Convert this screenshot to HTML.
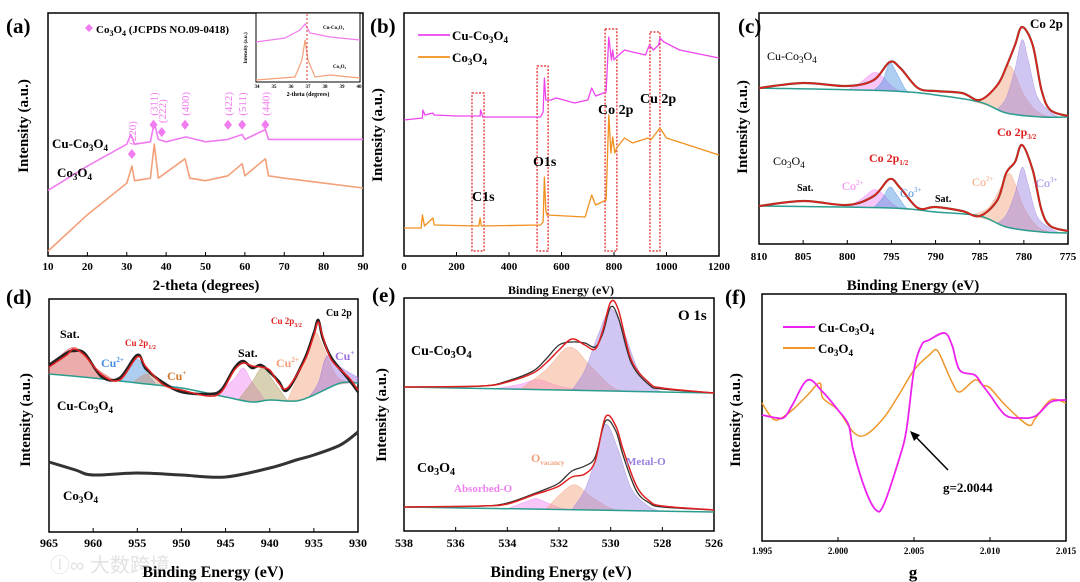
<!DOCTYPE html>
<html><head><meta charset="utf-8"><style>
html,body{margin:0;padding:0;background:#fff;}
svg{display:block;font-family:"Liberation Serif","Noto Serif CJK SC",serif;}
</style></head><body>
<svg id="fig" width="1080" height="582" viewBox="0 0 1080 582" xmlns="http://www.w3.org/2000/svg">
<text x="50" y="572" font-family="Liberation Sans,WenQuanYi Zen Hei,sans-serif" font-size="20" fill="#e2e2e2">ⓛ∞ 大数跨境</text>
</svg>
<script>
// ---------- DATA ----------
// (a) XRD
const aCuX=[10,20,30,31,32,36,37,38,40,45,50,55.7,59.3,60,65.2,66,70,80,90];
const aCuY=[27,37,46,50,46,47,55,48,47,49,47,48,50,48,52,48,48,48,48];
const aCoX=[10,20,30,31.3,32,36,37,38,44.8,46,50,55.7,59.3,60,65.2,66,70,80,90];
const aCoY=[2,17,30,37,31,32,46,32,40,32,31,33,38,33,40,33,32,30,28];
const aPeakX=[31.3,36.8,38.9,44.8,55.7,59.3,65.2];
const aPeakY=[42,54,51,54,54,54,54];
const aPeakLbl=["(220)","(311)","(222)","(400)","(422)","(511)","(440)"];
const aTicks=[10,20,30,40,50,60,70,80,90];
// (b) survey
const bCuX=[0,70,72,80,110,115,200,290,292,300,520,530,535,540,560,580,650,700,715,730,770,775,780,790,795,800,810,840,870,920,935,950,970,975,990,1050,1200];
const bCuY=[136,138,146,141,143,141,140,140,146,139,139,144,178,156,156,158,153,156,168,160,164,191,219,196,206,196,199,206,204,201,211,206,211,218,214,206,198];
const bCoX=[0,65,70,78,110,115,285,290,295,520,530,535,540,545,690,715,730,770,780,788,795,803,810,840,870,930,940,975,1000,1200];
const bCoY=[28,28,41,30,38,31,30,38,30,31,34,79,45,41,39,61,51,56,141,103,119,103,108,118,113,118,116,128,118,101];
const bBoxX0=[259,507,766,937], bBoxX1=[305,549,811,975], bBoxTop=[163,190,227,224];
const bTicks=[0,200,400,600,800,1000,1200];
// (c) Co 2p
const cX=[810,805,800,797,795.2,794,792,790,787,785,783,782,781,780.2,779,778,777,775];
const cCuEnv=[156,161,158,164,182,176,156,153,151,144,159,177,199,217,199,154,134,128];
const cCoEnv=[38,43,39,48,65,56,36,37,33,28,44,71,82,99,74,34,18,13];
const cBgX=[810,795,790,785,782,778,775];
const cCuBg=[156,153,149,142,131,127,127];
const cCoBg=[38,36,32,28,17,12,11];
const cCompX=[[800,798.5,797,796,795,794],[797,796,795.2,794.5,793.5,793],[786,784,782.5,781.7,781,780,778.5,777],[783,782,781,780.2,779.5,778.5,777,776]];
const cCuComp=[[0,8,18,14,5,0],[0,10,28,20,4,0],[0,10,35,48,40,20,5,0],[0,15,45,75,55,20,5,0]];
const cCoComp=[[0,8,18,14,5,0],[0,10,21,15,3,0],[0,12,40,54,45,22,5,0],[0,12,35,62,45,15,4,0]];
const cTicks=[810,805,800,795,790,785,780,775];
// (d) Cu 2p
const dX=[965,963,962.2,961,959,957,955,954,952,950,947,945.5,944,943,942,941,940,939,938,936,935,934.5,934,933,931,930];
const dCuEnv=[165,177,183,177,157,152,175,165,147,142,136,140,162,169,166,165,162,149,144,172,197,210,196,172,154,142];
const dCuRaw=[167,179,181,179,155,154,177,163,149,140,138,142,164,171,164,167,160,151,142,174,199,212,194,174,152,140];
const dBgX=[965,960,955,950,945,942,940,937,935,932,930];
const dBg=[158,154,149,144,135,130,132,131,137,149,149];
const dCompX=[[965,962.2,960,958,957],[957,956,955,954,953],[955.5,954,953,951],[946,944,943,942,940.5],[943.5,942,940.8,939.5,938],[938,936.5,935,934,932.5,931],[935.5,934.5,933.5,932,930.5,930]];
const dComp=[[7,29,12,2,0],[0,12,24,12,2],[0,10,8,0],[0,20,32,20,0],[0,20,33,18,0],[0,30,62,45,10,0],[0,10,33,16,8,6]];
const dCoX=[965,962,960,955,950,945,940,937,935,932,930];
const dCoY=[70,62,57,59,57,55,64,72,77,87,100];
const dTicks=[965,960,955,950,945,940,935,930];
// (e) O 1s
const eX=[538,535,534,533,532.5,532,531.5,531,530.6,530.3,530,529.7,529.2,528.5,528,526];
const eCuEnv=[144,145,149,158,168,181,192,186,182,201,229,221,171,148,143,138];
const eCuRaw=[144,145,150,160,172,186,189,188,184,198,224,213,168,146,142,138];
const eCoX=[538,535,534,533,532.5,532,531.5,531,530.6,530.2,529.8,529.5,529,528.5,528,526];
const eCoEnv=[24,25,27,36,40,45,54,57,70,114,105,80,45,30,25,21];
const eCoRaw=[24,25,28,37,42,48,60,65,74,110,100,74,40,28,24,21];
const eBgX=[538,526], eCuBg=[144,138], eCoBg=[24,19];
const eCompX=[[534.5,533.5,532.8,532,531],[533.5,532.5,531.6,530.8,530,529.5],[531.5,531,530.5,530,529.5,529,528.5,528]];
const eCuComp=[[0,5,10,4,0],[0,20,43,25,5,0],[0,20,55,82,60,25,6,0]];
const eCoCompX=[[534,533,532.8,532,531.5],[532.5,532,531.4,530.8,530,529.5],[531.5,531,530.6,530.2,529.7,529.2,528.5,528]];
const eCoComp=[[0,10,10,2,0],[0,14,25,14,2,0],[0,20,50,86,60,22,4,0]];
const eTicks=[538,536,534,532,530,528,526];
// (f) EPR
const fCuX=[1.995,1.996,1.9965,1.997,1.998,1.999,2.000,2.0007,2.001,2.0018,2.0025,2.003,2.004,2.0045,2.005,2.0055,2.006,2.007,2.0075,2.008,2.009,2.0095,2.010,2.011,2.012,2.013,2.014,2.015];
const fCuY=[126,123,124,136,161,149,131,116,91,51,31,36,81,111,171,196,201,208,196,171,166,156,146,126,123,125,139,141];
const fCoX=[1.995,1.9955,1.996,1.997,1.998,1.9988,1.999,2.000,2.001,2.0018,2.003,2.004,2.005,2.006,2.0065,2.007,2.0075,2.008,2.009,2.0095,2.010,2.011,2.0125,2.013,2.014,2.015];
const fCoY=[138,126,121,131,146,158,143,131,109,106,123,146,171,186,191,176,159,149,161,156,153,136,116,123,141,138];
const fTicks=[1.995,2.000,2.005,2.010,2.015];
const fTickLbl=["1.995","2.000","2.005","2.010","2.015"];

// ---------- HELPERS ----------
const NS='http://www.w3.org/2000/svg';
const svg=document.getElementById('fig');
function mk(tag,attrs,name,parent){
  const el=document.createElementNS(NS,tag);
  for(const k in attrs) el.setAttribute(k,attrs[k]);
  
  
  (parent||svg).appendChild(el);return el;
}
function txt(x,y,s,size,fill,name,anchor,extra){
  const t=mk('text',Object.assign({x:x,y:y,'font-size':size,fill:fill||'#000','font-weight':'bold','text-anchor':anchor||'start'},extra||{}),name);
  t.innerHTML=s;return t;
}
function panel(p){
  p.sx=v=>p.px0+(v-p.x0)/(p.x1-p.x0)*(p.px1-p.px0);
  p.sy=v=>p.py1-(v-p.y0)/(p.y1-p.y0)*(p.py1-p.py0);
  return p;
}
function frame(p,name){mk('rect',{x:p.px0,y:p.py0,width:p.px1-p.px0,height:p.py1-p.py0,fill:'none',stroke:'#000','stroke-width':1.5},name);}
function smoothD(pts){
  let d='M'+pts[0][0].toFixed(1)+','+pts[0][1].toFixed(1);
  for(let i=0;i<pts.length-1;i++){
    const p0=pts[Math.max(0,i-1)],p1=pts[i],p2=pts[i+1],p3=pts[Math.min(pts.length-1,i+2)];
    const c1x=p1[0]+(p2[0]-p0[0])/6,c1y=p1[1]+(p2[1]-p0[1])/6;
    const c2x=p2[0]-(p3[0]-p1[0])/6,c2y=p2[1]-(p3[1]-p1[1])/6;
    d+='C'+c1x.toFixed(1)+','+c1y.toFixed(1)+' '+c2x.toFixed(1)+','+c2y.toFixed(1)+' '+p2[0].toFixed(1)+','+p2[1].toFixed(1);
  }
  return d;
}
function line(p,xs,ys,color,w,name,smooth){
  const pts=xs.map((x,i)=>[p.sx(x),p.sy(ys[i])]);
  const d=smooth?smoothD(pts):pts.map((q,i)=>(i?'L':'M')+q[0].toFixed(1)+','+q[1].toFixed(1)).join('');
  return mk('path',{d:d,fill:'none',stroke:color,'stroke-width':w,'stroke-linejoin':'round'},name);
}
function interp(xs,ys,x){
  const asc=xs[0]<xs[xs.length-1];
  for(let i=0;i<xs.length-1;i++){const a=xs[i],b=xs[i+1];
    if((asc&&x>=a&&x<=b)||(!asc&&x<=a&&x>=b)) return ys[i]+(ys[i+1]-ys[i])*(x-a)/(b-a);}
  return (Math.abs(x-xs[0])<Math.abs(x-xs[xs.length-1]))?ys[0]:ys[ys.length-1];
}
function comp(p,xs,hs,bgX,bgY,color,name){
  const top=xs.map((x,i)=>[p.sx(x),p.sy(interp(bgX,bgY,x)+hs[i])]);
  let d=smoothD(top);
  xs.slice().reverse().forEach(x=>{d+='L'+p.sx(x).toFixed(1)+','+p.sy(interp(bgX,bgY,x)).toFixed(1);});
  d+='Z';
  mk('path',{d:d,fill:color,'fill-opacity':0.45,stroke:color,'stroke-opacity':0.6,'stroke-width':0.6},name);
}
function xticks(p,ticks,lbls,ly,size,name){
  ticks.forEach((t,i)=>{
    mk('line',{x1:p.sx(t),x2:p.sx(t),y1:p.py1,y2:p.py1-4,stroke:'#000','stroke-width':1},name+'-tick');
    txt(p.sx(t),ly,lbls?lbls[i]:String(t),size,'#000',name+'-label','middle');
  });
}
function ytitle(x,y,s,name){txt(x,y,s,15,'#000',name,'middle',{transform:'rotate(-90 '+x+' '+y+')'});}

// ---------- PANEL A ----------
const A=panel({x0:10,x1:90,px0:48,px1:363,y0:0,y1:100,py0:13,py1:256});
frame(A,'panel-a-frame');
line(A,aCoX,aCoY,'#f4a07a',1.6,'co3o4-xrd-line');
line(A,aCuX,aCuY,'#f07cf0',1.6,'cu-co3o4-xrd-line');
aPeakX.forEach((x,i)=>{
  const cx=A.sx(x),cy=A.sy(aPeakY[i]);
  mk('polygon',{points:`${cx},${cy-5} ${cx+4},${cy} ${cx},${cy+5} ${cx-4},${cy}`,fill:'#f07cf0'},'peak-marker');
  txt(cx+4,cy-9,aPeakLbl[i],11,'#f07cf0','peak-hkl-label','start',{transform:`rotate(-90 ${cx+4} ${cy-9})`,'font-weight':'normal'});
});
xticks(A,aTicks,null,270,11,'panel-a-x');
txt(206,290,'2-theta (degrees)',15,'#000','panel-a-x-title','middle');
ytitle(28,126,'Intensity (a.u.)','panel-a-y-title');
txt(6,33,'(a)',21,'#000','panel-a-label');
mk('polygon',{points:'89,24 93,28 89,32 85,28',fill:'#f07cf0'},'legend-diamond');
txt(96,33,'Co<tspan font-size="8" dy="3">3</tspan><tspan dy="-3">O</tspan><tspan font-size="8" dy="3">4</tspan><tspan dy="-3"> (JCPDS NO.09-0418)</tspan>',11,'#000','xrd-legend');
txt(52,148,'Cu-Co<tspan font-size="9" dy="3">3</tspan><tspan dy="-3">O</tspan><tspan font-size="9" dy="3">4</tspan>',13,'#000','cu-co3o4-label');
txt(57,177,'Co<tspan font-size="9" dy="3">3</tspan><tspan dy="-3">O</tspan><tspan font-size="9" dy="3">4</tspan>',13,'#000','co3o4-label');
// inset
mk('rect',{x:256,y:13,width:104,height:69,fill:'#fff',stroke:'#000','stroke-width':1},'inset-frame');
mk('path',{d:'M256,42 L285,38 L300,30 L305,24 L310,33 L330,37 L360,40',fill:'none',stroke:'#f07cf0','stroke-width':1.2},'inset-cu-line');
mk('path',{d:'M256,80 L295,77 L302,60 L305,40 L308,60 L315,77 L330,75 L360,78',fill:'none',stroke:'#f4a07a','stroke-width':1.2},'inset-co-line');
mk('line',{x1:307,x2:307,y1:14,y2:82,stroke:'#e03030','stroke-dasharray':'2,2','stroke-width':1},'inset-ref-line');
txt(323,29,'Cu-Co₃O₄',5,'#000','inset-cu-label');
txt(333,68,'Co₃O₄',5,'#000','inset-co-label');
txt(247,48,'Intensity (a.u.)',5,'#000','inset-y-title','middle',{transform:'rotate(-90 247 48)'});
[34,35,36,37,38,39,40].forEach((t,i)=>txt(257+i*17,88,String(t),5,'#000','inset-x-label','middle'));
txt(308,96,'2-theta (degrees)',6,'#000','inset-x-title','middle');

// ---------- PANEL B ----------
const B=panel({x0:0,x1:1200,px0:404,px1:719,y0:0,y1:243,py0:13,py1:256});
frame(B,'panel-b-frame');
bBoxX0.forEach((x,i)=>mk('rect',{x:B.sx(x),y:B.sy(bBoxTop[i]),width:B.sx(bBoxX1[i])-B.sx(x),height:B.sy(5)-B.sy(bBoxTop[i]),fill:'none',stroke:'#e02020','stroke-width':1.2,'stroke-dasharray':'2,1.5'},'region-box'));
line(B,bCoX,bCoY,'#f0901e',1.3,'co3o4-survey-line');
line(B,bCuX,bCuY,'#ee44ee',1.3,'cu-co3o4-survey-line');
mk('line',{x1:418,x2:450,y1:35,y2:35,stroke:'#ee44ee','stroke-width':1.8},'legend-cu-line');
mk('line',{x1:418,x2:450,y1:57,y2:57,stroke:'#f0901e','stroke-width':1.8},'legend-co-line');
txt(452,40,'Cu-Co<tspan font-size="9" dy="3">3</tspan><tspan dy="-3">O</tspan><tspan font-size="9" dy="3">4</tspan>',13,'#000','legend-cu-text');
txt(452,62,'Co<tspan font-size="9" dy="3">3</tspan><tspan dy="-3">O</tspan><tspan font-size="9" dy="3">4</tspan>',13,'#000','legend-co-text');
txt(472,201,'C1s',14,'#000','c1s-label');
txt(533,166,'O1s',14,'#000','o1s-label');
txt(598,114,'Co 2p',14,'#000','co2p-label');
txt(640,103,'Cu 2p',14,'#000','cu2p-label');
xticks(B,bTicks,null,270,11,'panel-b-x');
txt(561,294,'Binding Energy (eV)',12,'#000','panel-b-x-title','middle');
ytitle(382,135,'Intensity (a.u.)','panel-b-y-title');
txt(370,33,'(b)',21,'#000','panel-b-label');

// ---------- PANEL C ----------
const C=panel({x0:810,x1:775,px0:759,px1:1068,y0:0,y1:231,py0:13,py1:244});
frame(C,'panel-c-frame');
const cCols=['#f080f0','#4a90e0','#f4a07a','#9a80e0'];
cCompX.forEach((xs,i)=>{comp(C,xs,cCuComp[i],cBgX,cCuBg,cCols[i],'cu-co3o4-co-component');comp(C,xs,cCoComp[i],cBgX,cCoBg,cCols[i],'co3o4-co-component');});
line(C,cBgX,cCuBg,'#2a9d8f',1.5,'cu-co3o4-background',true);
line(C,cBgX,cCoBg,'#2a9d8f',1.5,'co3o4-background',true);
line(C,cX,cCuEnv,'#6b4a2a',2.2,'cu-co3o4-raw',true);
line(C,cX,cCoEnv,'#6b4a2a',2.2,'co3o4-raw',true);
line(C,cX,cCuEnv,'#e02020',1.5,'cu-co3o4-fit',true);
line(C,cX,cCoEnv,'#e02020',1.5,'co3o4-fit',true);
txt(767,60,'Cu-Co<tspan font-size="9" dy="3">3</tspan><tspan dy="-3">O</tspan><tspan font-size="9" dy="3">4</tspan>',12,'#000','c-cu-label','start',{'font-weight':'normal'});
txt(1030,28,'Co 2p',13,'#000','c-co2p-title');
txt(773,165,'Co<tspan font-size="9" dy="3">3</tspan><tspan dy="-3">O</tspan><tspan font-size="9" dy="3">4</tspan>',12,'#000','c-co-label','start',{'font-weight':'normal'});
txt(797,191,'Sat.',10,'#000','c-sat-label');
txt(935,202,'Sat.',10,'#000','c-sat2-label');
txt(869,162,'Co 2p<tspan font-size="7" dy="3">1/2</tspan>',12,'#e02020','c-2p12-label');
txt(997,136,'Co 2p<tspan font-size="7" dy="3">3/2</tspan>',12,'#e02020','c-2p32-label');
txt(842,190,'Co<tspan font-size="7" dy="-5">2+</tspan>',12,'#f080f0','c-co2-label','start',{'font-weight':'normal'});
txt(900,197,'Co<tspan font-size="7" dy="-5">3+</tspan>',12,'#4a90e0','c-co3-label','start',{'font-weight':'normal'});
txt(972,186,'Co<tspan font-size="7" dy="-5">2+</tspan>',12,'#f4a07a','c-co2b-label','start',{'font-weight':'normal'});
txt(1036,187,'Co<tspan font-size="7" dy="-5">3+</tspan>',12,'#9a80e0','c-co3b-label','start',{'font-weight':'normal'});
xticks(C,cTicks,null,260,11,'panel-c-x');
txt(913,290,'Binding Energy (eV)',15,'#000','panel-c-x-title','middle');
ytitle(747,127,'Intensity (a.u.)','panel-c-y-title');
txt(738,33,'(c)',21,'#000','panel-c-label');

// ---------- PANEL D ----------
const D=panel({x0:965,x1:930,px0:49,px1:358,y0:0,y1:233,py0:299,py1:532});
frame(D,'panel-d-frame');
const dCols=['#d84848','#4a90e0','#c8906a','#f080f0','#a89858','#f4a07a','#9a70e0'];
dCompX.forEach((xs,i)=>comp(D,xs,dComp[i],dBgX,dBg,dCols[i],'cu-component'));
line(D,dBgX,dBg,'#2a9d8f',1.5,'cu2p-background',true);
line(D,dX,dCuRaw,'#222',2.6,'cu-co3o4-cu2p-raw',true);
line(D,dX,dCuEnv,'#e02020',1.6,'cu-co3o4-cu2p-fit',true);
line(D,dCoX,dCoY,'#333',3,'co3o4-cu2p-raw',true);
txt(60,338,'Sat.',12,'#000','d-sat-label');
txt(125,346,'Cu 2p<tspan font-size="6" dy="3">1/2</tspan>',9,'#e02020','d-2p12-label');
txt(101,367,'Cu<tspan font-size="7" dy="-5">2+</tspan>',12,'#4a90e0','d-cu2-label');
txt(167,380,'Cu<tspan font-size="7" dy="-5">+</tspan>',12,'#d07a30','d-cu1-label');
txt(238,357,'Sat.',12,'#000','d-sat2-label');
txt(276,367,'Cu<tspan font-size="7" dy="-5">2+</tspan>',12,'#f4a07a','d-cu2b-label');
txt(271,324,'Cu 2p<tspan font-size="6" dy="3">3/2</tspan>',9,'#e02020','d-2p32-label');
txt(326,316,'Cu 2p',10,'#000','d-cu2p-title');
txt(335,360,'Cu<tspan font-size="7" dy="-5">+</tspan>',12,'#9a70e0','d-cu1b-label');
txt(57,410,'Cu-Co<tspan font-size="9" dy="3">3</tspan><tspan dy="-3">O</tspan><tspan font-size="9" dy="3">4</tspan>',13,'#000','d-cu-label');
txt(63,500,'Co<tspan font-size="9" dy="3">3</tspan><tspan dy="-3">O</tspan><tspan font-size="9" dy="3">4</tspan>',13,'#000','d-co-label');
xticks(D,dTicks,null,547,12,'panel-d-x');
txt(213,577,'Binding Energy (eV)',16,'#000','panel-d-x-title','middle');
ytitle(30,420,'Intensity (a.u.)','panel-d-y-title');
txt(6,304,'(d)',21,'#000','panel-d-label');

// ---------- PANEL E ----------
const E=panel({x0:538,x1:526,px0:404,px1:714,y0:0,y1:233,py0:298,py1:531});
frame(E,'panel-e-frame');
const eCols=['#f080f0','#f4a07a','#9a80e0'];
eCompX.forEach((xs,i)=>comp(E,xs,eCuComp[i],eBgX,eCuBg,eCols[i],'cu-co3o4-o-component'));
eCoCompX.forEach((xs,i)=>comp(E,xs,eCoComp[i],eBgX,eCoBg,eCols[i],'co3o4-o-component'));
line(E,eBgX,eCuBg,'#2a9d8f',1.5,'cu-co3o4-o1s-background');
line(E,eBgX,eCoBg,'#2a9d8f',1.5,'co3o4-o1s-background');
line(E,eX,eCuRaw,'#333',1.3,'cu-co3o4-o1s-raw',true);
line(E,eCoX,eCoRaw,'#333',1.3,'co3o4-o1s-raw',true);
line(E,eX,eCuEnv,'#e02020',1.5,'cu-co3o4-o1s-fit',true);
line(E,eCoX,eCoEnv,'#e02020',1.5,'co3o4-o1s-fit',true);
txt(678,320,'O 1s',15,'#000','e-o1s-title');
txt(411,355,'Cu-Co<tspan font-size="10" dy="3">3</tspan><tspan dy="-3">O</tspan><tspan font-size="10" dy="3">4</tspan>',14,'#000','e-cu-label');
txt(417,472,'Co<tspan font-size="10" dy="3">3</tspan><tspan dy="-3">O</tspan><tspan font-size="10" dy="3">4</tspan>',14,'#000','e-co-label');
txt(454,492,'Absorbed-O',11,'#f080f0','absorbed-o-label');
txt(531,462,'O<tspan font-size="7" dy="3">vacancy</tspan>',12,'#f4a07a','ovacancy-label');
txt(626,465,'Metal-O',11,'#9a80e0','metal-o-label');
xticks(E,eTicks,null,547,12,'panel-e-x');
txt(561,577,'Binding Energy (eV)',16,'#000','panel-e-x-title','middle');
ytitle(386,415,'Intensity (a.u.)','panel-e-y-title');
txt(372,302,'(e)',21,'#000','panel-e-label');

// ---------- PANEL F ----------
const F=panel({x0:1.995,x1:2.015,px0:762,px1:1066,y0:0,y1:247,py0:294,py1:541});
frame(F,'panel-f-frame');
line(F,fCoX,fCoY,'#f0962a',1.5,'co3o4-epr-line',true);
line(F,fCuX,fCuY,'#ee22ee',1.8,'cu-co3o4-epr-line',true);
mk('line',{x1:783,x2:815,y1:327,y2:327,stroke:'#ee22ee','stroke-width':2},'legend-f-cu-line');
mk('line',{x1:783,x2:815,y1:348,y2:348,stroke:'#f0962a','stroke-width':2},'legend-f-co-line');
txt(818,332,'Cu-Co<tspan font-size="9" dy="3">3</tspan><tspan dy="-3">O</tspan><tspan font-size="9" dy="3">4</tspan>',13,'#000','legend-f-cu-text');
txt(818,353,'Co<tspan font-size="9" dy="3">3</tspan><tspan dy="-3">O</tspan><tspan font-size="9" dy="3">4</tspan>',13,'#000','legend-f-co-text');
mk('line',{x1:948,x2:913,y1:470,y2:434,stroke:'#000','stroke-width':1.5},'g-arrow-line');
mk('polygon',{points:'910,431 920,435 914,441',fill:'#000'},'g-arrow-head');
txt(943,492,'g=2.0044',13,'#000','g-value-label');
xticks(F,fTicks,fTickLbl,554,9,'panel-f-x');
txt(913,578,'g',17,'#000','panel-f-x-title','middle');
ytitle(740,420,'Intensity (a.u.)','panel-f-y-title');
txt(725,304,'(f)',21,'#000','panel-f-label');
</script>
</body></html>
